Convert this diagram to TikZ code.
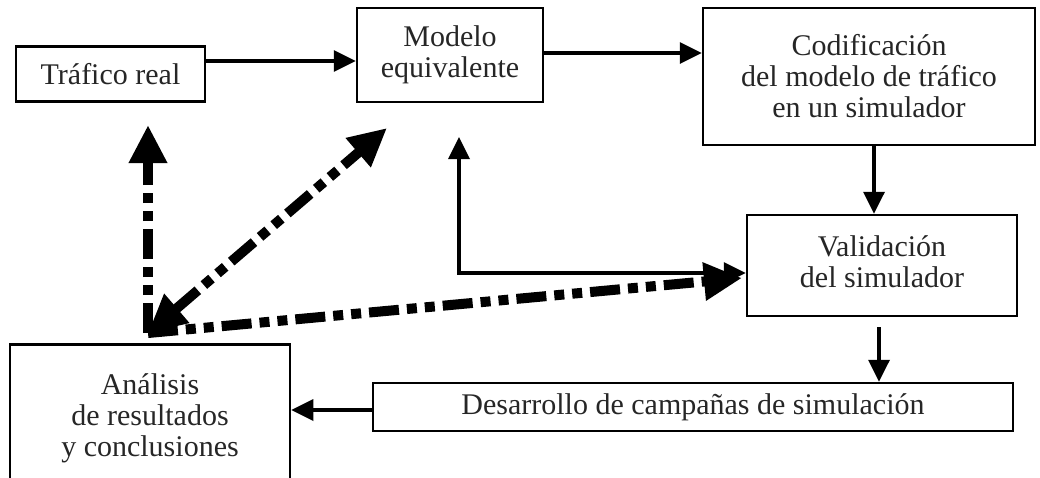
\documentclass[tikz,border=0pt]{standalone}
\usepackage{fontspec}
\setmainfont{Liberation Serif}
\usetikzlibrary{arrows.meta,calc}
\begin{document}
\begin{tikzpicture}[x=1pt,y=-1pt,
  box/.style={draw, line width=2.5pt, align=center, inner sep=0pt,
    font=\fontsize{30}{31}\selectfont, text=black!85},
  arr/.style={line width=3.5pt, -{Triangle[length=22pt,width=21pt]}},
  darr/.style={line width=10pt, dash pattern=on 30pt off 8pt on 10pt off 8pt on 10pt off 8pt,
    -{Triangle[length=38pt,width=36pt]}}]
\useasboundingbox (0,0) rectangle (1040,477);
\begin{scope}
\clip (0,0) rectangle (1040,477);
\node[box, minimum width=189pt, minimum height=55pt] (tra) at (110.5,74) {Tráfico real};
\node[box, minimum width=186pt, minimum height=94pt] (mod) at (450,55) {Modelo\\equivalente};
\node[box, minimum width=332pt, minimum height=137pt] (cod) at (869,76.5) {Codificación\\del modelo de tráfico\\en un simulador};
\node[box, minimum width=270pt, minimum height=101pt] (val) at (882,265.5) {\raisebox{-4pt}{\begin{tabular}{@{}c@{}}Validación\\del simulador\end{tabular}}};
\node[box, minimum width=640pt, minimum height=48pt] (des) at (693,407) {Desarrollo de campañas de simulación};
\node[box, minimum width=280pt, minimum height=150pt, anchor=north] (ana) at (150,343)
  {\raisebox{16pt}{\begin{tabular}{@{}c@{}}Análisis\\de resultados\\y conclusiones\end{tabular}}};

\draw[arr] (tra.east |- 0,61) -- (mod.west |- 0,61);
\draw[arr] (mod.east |- 0,53) -- (cod.west |- 0,53);
\draw[arr] (874,0 |- cod.south) -- (874,0 |- val.north);
\draw[arr] (879,327) -- (879,0 |- des.north);
\draw[arr] (des.west |- 0,410) -- (ana.east |- 0,410);
\coordinate (m1) at (459,137);
\draw[arr, {Triangle[length=22pt,width=21pt]}-{Triangle[length=22pt,width=21pt]}] (m1) |- (val.west |- 0,273);

\coordinate (o) at (148,333);
\coordinate (t1) at (148,125);
\coordinate (t2) at (387,128);
\coordinate (t3) at (742,278);
\draw[darr] (o) -- (t1);
\draw[darr, {Triangle[length=38pt,width=36pt]}-{Triangle[length=38pt,width=36pt]}] (o) -- (t2);
\draw[darr] (o) -- (t3);
\end{scope}
\end{tikzpicture}
\end{document}
